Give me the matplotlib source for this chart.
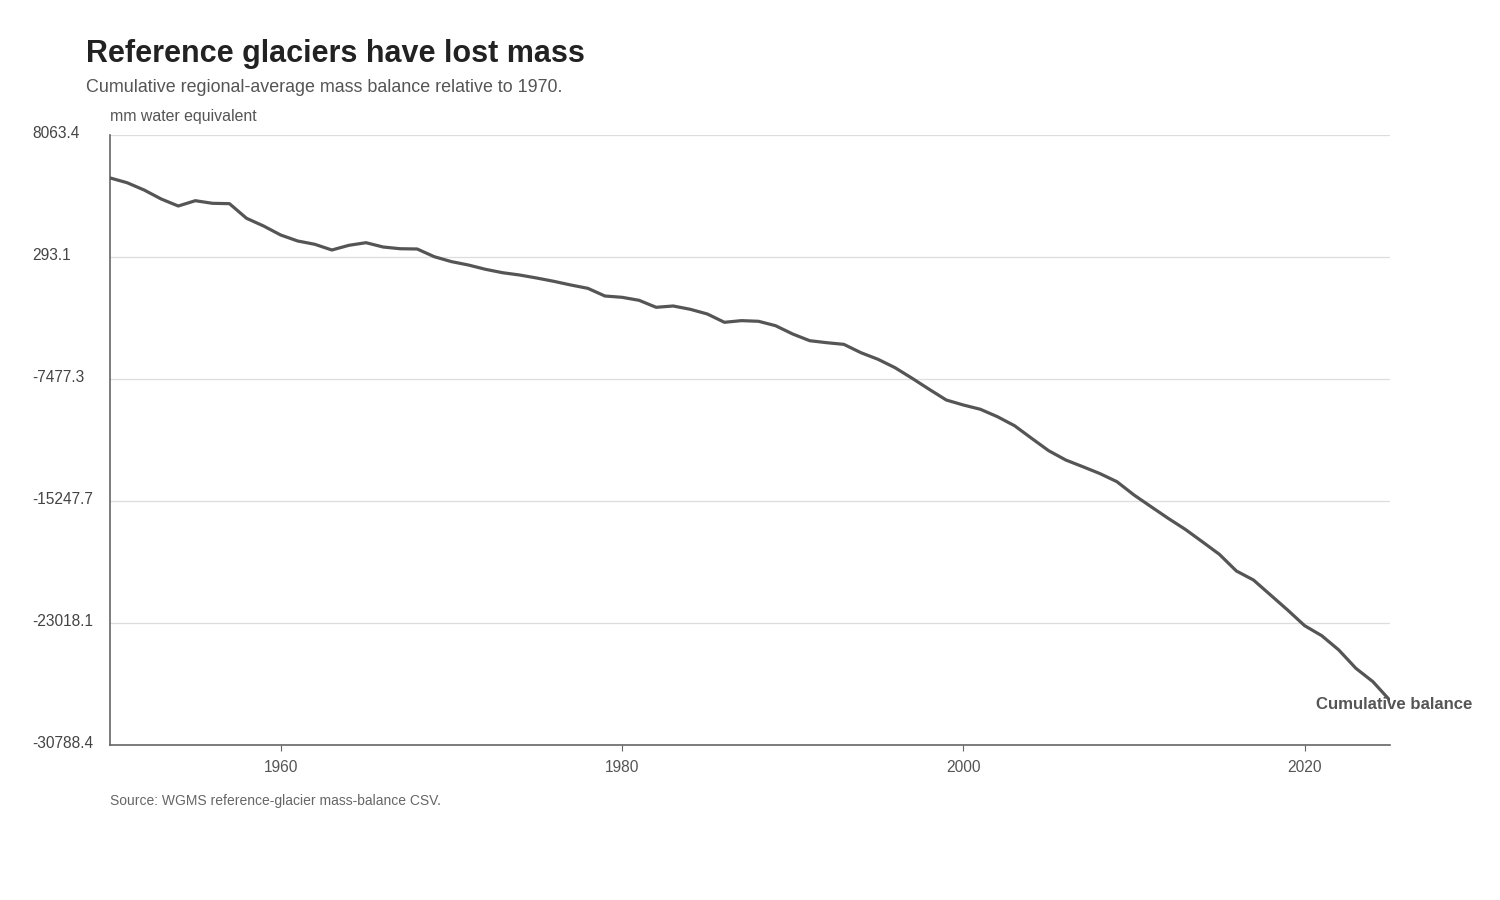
import matplotlib
matplotlib.use("Agg")
import matplotlib.pyplot as plt
from matplotlib.transforms import ScaledTranslation

years = list(range(1950, 2026))
balance = [
    5330, 5025, 4560, 3987, 3541, 3879, 3713, 3690, 2758, 2267,
    1694, 1312, 1102, 739, 1038, 1204, 930, 820, 803, 312,
    0, -217, -491, -707, -854, -1045, -1255, -1490, -1703, -2191,
    -2274, -2465, -2911, -2827, -3038, -3337, -3866, -3760, -3802, -4083,
    -4611, -5038, -5165, -5271, -5802, -6222, -6758, -7432, -8133, -8815,
    -9133, -9407, -9879, -10452, -11254, -12044, -12636, -13063, -13500, -14018,
    -14865, -15610, -16349, -17050, -17840, -18642, -19706, -20279, -21234, -22190,
    -23190, -23826, -24737, -25903, -26756, -27950,
]
y_ticks = [8063.4, 293.1, -7477.3, -15247.7, -23018.1, -30788.4]
x_ticks = [1960, 1980, 2000, 2020]

plt.rcParams["font.family"] = ["Liberation Sans", "DejaVu Sans"]

fig = plt.figure(figsize=(15, 9), dpi=100)
ax = fig.add_axes([110 / 1500, 1 - 745 / 900, 1280 / 1500, 610 / 900])

ax.plot(years, balance, color="#555555", lw=2.3, solid_capstyle="round", zorder=3)
ax.set_xlim(1950, 2025)
ax.set_ylim(y_ticks[-1], y_ticks[0])

ax.set_yticks(y_ticks)
ax.set_yticklabels([f"{v:.1f}" for v in y_ticks])
ax.set_xticks(x_ticks)
ax.set_xticklabels([str(v) for v in x_ticks])

for side in ("top", "right"):
    ax.spines[side].set_visible(False)
for side in ("left", "bottom"):
    ax.spines[side].set_color("#666666")
    ax.spines[side].set_linewidth(1.2)

ax.grid(axis="y", color="#dddddd", lw=0.9)
ax.grid(axis="x", visible=False)
ax.set_axisbelow(True)

ax.tick_params(axis="y", length=0, pad=56, labelsize=11.2, labelcolor="#444444")
ax.tick_params(axis="x", length=4, width=0.8, color="#666666", pad=7,
               labelsize=11.2, labelcolor="#555555")
# y labels sit left-aligned at the page margin, a touch above their gridline
lift = ScaledTranslation(0, 3 / 100, fig.dpi_scale_trans)
for lab in ax.get_yticklabels():
    lab.set_horizontalalignment("left")
    lab.set_transform(lab.get_transform() + lift)

ax.annotate("Cumulative balance", xy=(years[-1], balance[-1]), xytext=(3, -3),
            textcoords="offset points", ha="center", va="center",
            fontsize=12.1, fontweight="bold", color="#555555", zorder=4,
            annotation_clip=False)

fig.text(86 / 1500, 1 - 54 / 900, "Reference glaciers have lost mass",
         fontsize=22, fontweight="bold", color="#222222", va="center")
fig.text(86 / 1500, 1 - 87 / 900, "Cumulative regional-average mass balance relative to 1970.",
         fontsize=12.9, color="#555555", va="center")
fig.text(110 / 1500, 1 - 116 / 900, "mm water equivalent",
         fontsize=11.4, color="#555555", va="center")
fig.text(110 / 1500, 1 - 801 / 900, "Source: WGMS reference-glacier mass-balance CSV.",
         fontsize=10, color="#666666", va="center")

fig.savefig("out.png", dpi=100, facecolor="white")
